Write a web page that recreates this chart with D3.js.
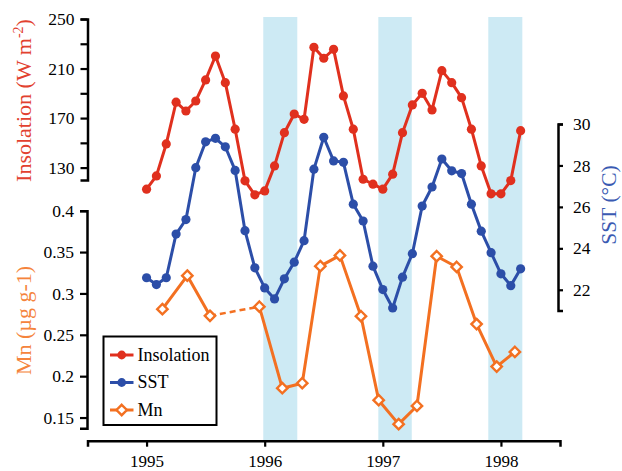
<!DOCTYPE html>
<html>
<head>
<meta charset="utf-8">
<script src="https://cdn.jsdelivr.net/npm/d3@7"></script>
<style>
  html, body { margin: 0; padding: 0; background: #fff; }
  svg { display: block; font-family: "Liberation Serif", "Times New Roman", serif; }
  svg text { font-family: "Liberation Serif", "Times New Roman", serif; }
</style>
</head>
<body>
<svg id="chart" width="622" height="471"></svg>
<script>
// Monthly series, January 1995 to March 1998
const startYear = 1995;
const insolation = [112.6, 123.3, 149.1, 182.8, 175.7, 183.8, 200.8, 220.1, 198.6, 161.0, 119.3, 108.0,
                    111.2, 131.4, 158.2, 173.3, 169.0, 227.2, 218.3, 225.5, 187.9, 161.0, 120.6, 116.6,
                    112.6, 124.7, 158.2, 180.6, 190.0, 176.6, 208.3, 198.6, 186.5, 161.0, 131.4, 108.8,
                    108.8, 119.5, 159.8];
const sst = [22.58, 22.25, 22.58, 24.69, 25.39, 27.89, 29.14, 29.31, 28.90, 27.76, 24.85, 23.06,
             22.09, 21.56, 22.53, 23.33, 24.37, 27.82, 29.36, 28.22, 28.15, 26.13, 25.32, 23.14,
             22.01, 21.12, 22.61, 23.74, 26.04, 26.96, 28.31, 27.74, 27.61, 26.13, 24.83, 23.79,
             22.77, 22.20, 23.01];

// Mn sampling dates (decimal years) and concentrations
const mnDates = [1995.134, 1995.345, 1995.537, 1995.955, 1996.149, 1996.318, 1996.471, 1996.637,
                 1996.815, 1996.965, 1997.134, 1997.289, 1997.456, 1997.625, 1997.794, 1997.964, 1998.118];
const mnValues = [0.281, 0.3215, 0.273, 0.284, 0.1855, 0.1915, 0.333, 0.346,
                  0.2725, 0.171, 0.142, 0.164, 0.345, 0.332, 0.263, 0.2116, 0.2293];
// gap in Mn sampling drawn dashed (index of the segment start)
const mnGapAfter = 2;

// Shaded winter periods (decimal years)
const bands = [[1995.988, 1996.276], [1996.962, 1997.245], [1997.893, 1998.181]];

const xTicks = [1995, 1996, 1997, 1998];
const insTicks = [130, 150, 170, 190, 210, 230, 250];
const insLabels = [130, 170, 210, 250];
const mnTicks = [0.15, 0.2, 0.25, 0.3, 0.35, 0.4];
const sstTicks = [22, 24, 26, 28, 30];

const legendItems = ["Insolation", "SST", "Mn"];

const colors = { ins: "#e0301e", sst: "#2c4ea8", mn: "#f37021",
                 insTitle: "#e2412f", sstTitle: "#3a5ab2", mnTitle: "#f5843c", band: "#cdeaf4" };

const svg = d3.select("#chart");

// Scales
const x = d3.scaleLinear().domain([1994.5, 1998.5]).range([87.5, 560]);
const yIns = d3.scaleLinear().domain([120, 250]).range([180, 19]);
const yMn = d3.scaleLinear().domain([0.137, 0.4]).range([428.3, 210.7]);
const ySst = d3.scaleLinear().domain([21, 30]).range([310.5, 124]);
const axisY = 440.7;
const plotTop = 17;

const monthX = i => x(startYear + i / 12);

// Shaded bands
svg.append("g").selectAll("rect").data(bands).join("rect")
  .attr("x", d => x(d[0]))
  .attr("width", d => x(d[1]) - x(d[0]))
  .attr("y", plotTop)
  .attr("height", axisY - plotTop)
  .attr("fill", colors.band);

// Axes
function styleAxis(g, fontSize) {
  g.attr("font-family", null).attr("font-size", null);
  g.selectAll("path.domain").attr("stroke", "#000").attr("stroke-width", 2.5);
  g.selectAll(".tick line").attr("stroke", "#000").attr("stroke-width", 2.2);
  g.selectAll(".tick text").attr("fill", "#000").style("font-size", fontSize + "px");
}

const gx = svg.append("g").attr("transform", `translate(0,${axisY})`)
  .call(d3.axisBottom(x).tickValues(xTicks).tickFormat(d3.format("d")).tickSizeOuter(0).tickSize(6).tickPadding(8));
styleAxis(gx, 17);

const gIns = svg.append("g").attr("transform", "translate(87.5,0)")
  .call(d3.axisLeft(yIns).tickValues(insTicks)
    .tickFormat(d => insLabels.includes(d) ? d : "").tickSizeOuter(0).tickSize(7).tickPadding(6));
styleAxis(gIns, 17.5);

const gMn = svg.append("g").attr("transform", "translate(87,0)")
  .call(d3.axisLeft(yMn).tickValues(mnTicks)
    .tickFormat(d => d3.format("")(+d.toFixed(2))).tickSizeOuter(0).tickSize(7).tickPadding(6));
styleAxis(gMn, 17.5);

const gSst = svg.append("g").attr("transform", "translate(558,0)")
  .call(d3.axisRight(ySst).tickValues(sstTicks).tickSizeOuter(0).tickSize(5).tickPadding(10));
styleAxis(gSst, 17.5);

// Axis titles
svg.append("text")
  .attr("transform", `translate(31,${(yIns.range()[0] + yIns.range()[1]) / 2 + 1}) rotate(-90)`)
  .attr("text-anchor", "middle").attr("font-size", 22).attr("fill", colors.insTitle)
  .call(t => {
    t.append("tspan").text("Insolation (W m");
    t.append("tspan").attr("font-size", 14).attr("dy", -8).text("-2");
    t.append("tspan").attr("dy", 8).text(")");
  });

svg.append("text")
  .attr("transform", `translate(31,${(yMn.range()[0] + yMn.range()[1]) / 2 + 1}) rotate(-90)`)
  .attr("text-anchor", "middle").attr("font-size", 22).attr("fill", colors.mnTitle)
  .text("Mn (µg g-1)");

svg.append("text")
  .attr("transform", `translate(616,205) rotate(-90)`)
  .attr("text-anchor", "middle").attr("font-size", 21.5).attr("fill", colors.sstTitle)
  .text("SST (°C)");

// Series
const diamond = "M0,-5.2L5.2,0L0,5.2L-5.2,0Z";

const insLine = d3.line().x((d, i) => monthX(i)).y(d => yIns(d));
svg.append("path").datum(insolation).attr("d", insLine)
  .attr("fill", "none").attr("stroke", colors.ins).attr("stroke-width", 3).attr("stroke-linejoin", "round");
svg.append("g").selectAll("circle").data(insolation).join("circle")
  .attr("cx", (d, i) => monthX(i)).attr("cy", d => yIns(d)).attr("r", 4.6).attr("fill", colors.ins);

const sstLine = d3.line().x((d, i) => monthX(i)).y(d => ySst(d));
svg.append("path").datum(sst).attr("d", sstLine)
  .attr("fill", "none").attr("stroke", colors.sst).attr("stroke-width", 3).attr("stroke-linejoin", "round");
svg.append("g").selectAll("circle").data(sst).join("circle")
  .attr("cx", (d, i) => monthX(i)).attr("cy", d => ySst(d)).attr("r", 4.6).attr("fill", colors.sst);

const mnPoints = mnDates.map((t, i) => ({ t, v: mnValues[i] }));
const mnLine = d3.line().x(d => x(d.t)).y(d => yMn(d.v));
svg.append("path").datum(mnPoints.slice(0, mnGapAfter + 1)).attr("d", mnLine)
  .attr("fill", "none").attr("stroke", colors.mn).attr("stroke-width", 3).attr("stroke-linejoin", "round");
svg.append("path").datum(mnPoints.slice(mnGapAfter, mnGapAfter + 2)).attr("d", mnLine)
  .attr("fill", "none").attr("stroke", colors.mn).attr("stroke-width", 2.5).attr("stroke-dasharray", "6,4");
svg.append("path").datum(mnPoints.slice(mnGapAfter + 1)).attr("d", mnLine)
  .attr("fill", "none").attr("stroke", colors.mn).attr("stroke-width", 3).attr("stroke-linejoin", "round");
svg.append("g").selectAll("path").data(mnPoints).join("path")
  .attr("d", diamond)
  .attr("transform", d => `translate(${x(d.t)},${yMn(d.v)})`)
  .attr("fill", "#fff").attr("stroke", colors.mn).attr("stroke-width", 2.4);

// Legend
const legend = svg.append("g").attr("transform", "translate(103.5,336.5)");
legend.append("rect").attr("width", 113).attr("height", 88.5)
  .attr("fill", "#fff").attr("stroke", "#000").attr("stroke-width", 2);
const legendColors = [colors.ins, colors.sst, colors.mn];
const rows = legend.selectAll("g.row").data(legendItems).join("g")
  .attr("class", "row")
  .attr("transform", (d, i) => `translate(0,${18.5 + i * 27.5})`);
rows.append("line").attr("x1", 6.5).attr("x2", 30).attr("y1", 0).attr("y2", 0)
  .attr("stroke", (d, i) => legendColors[i]).attr("stroke-width", 3);
rows.each(function (d, i) {
  const g = d3.select(this);
  if (i < 2) {
    g.append("circle").attr("cx", 18.2).attr("cy", 0).attr("r", 4.4).attr("fill", legendColors[i]);
  } else {
    g.append("path").attr("d", diamond).attr("transform", "translate(18.2,0)")
      .attr("fill", "#fff").attr("stroke", legendColors[i]).attr("stroke-width", 2.4);
  }
});
rows.append("text").attr("x", 34).attr("y", 5.5).attr("font-size", 18).attr("fill", "#000")
  .text(d => d);
</script>
</body>
</html>
